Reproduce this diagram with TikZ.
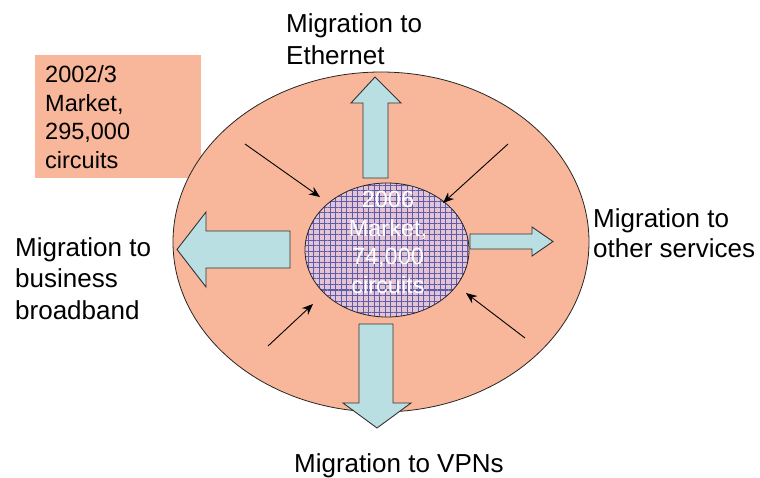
\documentclass[tikz,border=0pt]{standalone}
\usepackage{fontspec}
\setmainfont{Liberation Sans}
\usetikzlibrary{arrows.meta,patterns.meta}

\definecolor{marketfill}{RGB}{248,182,154}
\definecolor{corefill}{RGB}{228,196,212}
\definecolor{coregrid}{RGB}{92,92,168}
\definecolor{arrowfill}{RGB}{186,223,226}

\tikzset{
  blockarrow/.style={fill=arrowfill, draw=black!80, line width=0.9pt, line join=miter},
  feed/.style={-{Stealth[length=11pt,width=9pt]}, line width=0.9pt},
  migtext/.style={anchor=base west, inner sep=0pt, align=left,
    font=\fontsize{26}{31.5}\selectfont},
  boxtext/.style={inner sep=0pt, font=\fontsize{23.5}{28.5}\selectfont},
}

\begin{document}
\begin{tikzpicture}[x=1pt,y=-1pt]
  \useasboundingbox (0,0) rectangle (760,477);

  % old market box (base sits on the last line)
  \fill[marketfill] (35,55) rectangle (201,178);
  \node[boxtext, anchor=base west, align=left] (oldmarket) at (45,168)
    {2002/3\\Market,\\295,000\\circuits};

  % whole market
  \filldraw[fill=marketfill, draw=black!85, line width=0.8pt]
    (381,242) ellipse [x radius=208, y radius=170];

  % 2006 market, hatched
  \fill[corefill] (387,250) ellipse [x radius=82, y radius=67];
  \path[pattern={Lines[distance=5.5pt,angle=0,line width=1pt]}, pattern color=coregrid]
    (387,250) ellipse [x radius=82, y radius=67];
  \path[pattern={Lines[distance=5.5pt,angle=90,line width=1pt]}, pattern color=coregrid]
    (387,250) ellipse [x radius=82, y radius=67];
  \draw[black!85, line width=0.8pt] (387,250) ellipse [x radius=82, y radius=67];
  \node[boxtext, anchor=base, align=center, text=white] (newmarket) at (388,293)
    {2006\\Market,\\74,000\\circuits};

  % migration arrows
  \draw[blockarrow] (363,178) -- (363,103) -- (351,103) -- (375,77)
    -- (401,103) -- (388,103) -- (388,178) -- cycle;
  \draw[blockarrow] (359,324) -- (393,324) -- (393,403) -- (411,403)
    -- (377,428) -- (343,403) -- (359,403) -- cycle;
  \draw[blockarrow] (290,231) -- (206,231) -- (206,212) -- (177,249.5)
    -- (206,287) -- (206,268) -- (290,268) -- cycle;
  \draw[blockarrow] (470,234) -- (532,234) -- (532,227) -- (553,241.5)
    -- (532,256) -- (532,249) -- (470,249) -- cycle;

  % pressure on the market
  \coordinate (nwout) at (245,144);  \coordinate (nwin) at (320,197);
  \coordinate (neout) at (508,144);  \coordinate (nein) at (443,203);
  \coordinate (swout) at (268,346);  \coordinate (swin) at (313,304);
  \coordinate (seout) at (525,338);  \coordinate (sein) at (466,293);
  \draw[feed] (nwout) -- (nwin);
  \draw[feed] (neout) -- (nein);
  \draw[feed] (swout) -- (swin);
  \draw[feed] (seout) -- (sein);

  % labels, placed by the baseline of their last line
  \node[migtext] (ethernet) at (286,64) {Migration to\\Ethernet};
  \node[migtext, font=\fontsize{26}{30}\selectfont] (services) at (593,257)
    {Migration to\\other services};
  \node[migtext] (broadband) at (15,319) {Migration to\\business\\broadband};
  \node[migtext] (vpns) at (294,472) {Migration to VPNs};
\end{tikzpicture}
\end{document}
